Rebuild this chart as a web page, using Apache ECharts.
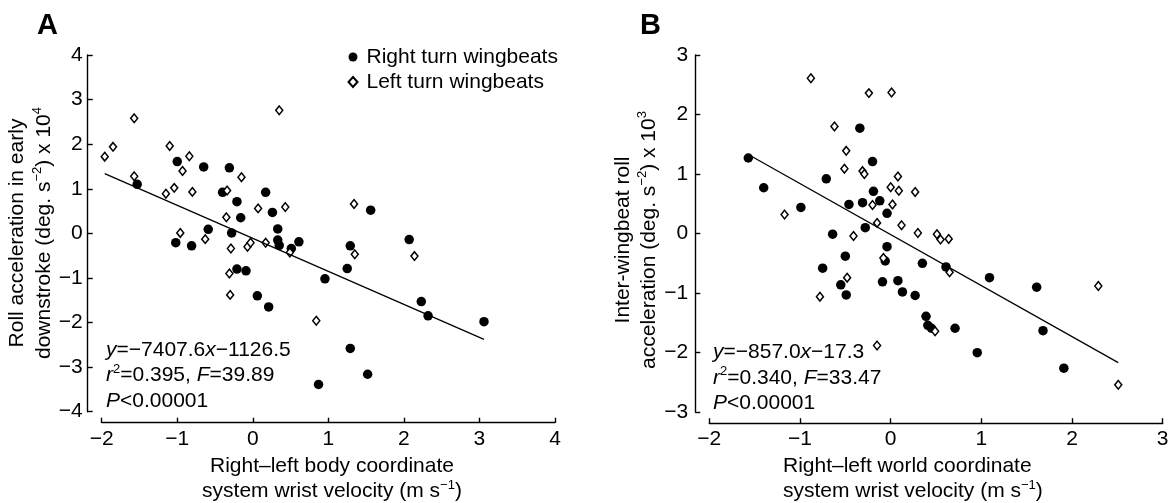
<!DOCTYPE html>
<html>
<head>
<meta charset="utf-8">
<script src="https://cdn.jsdelivr.net/npm/echarts@6/dist/echarts.min.js"></script>
<style>
  html, body { margin: 0; padding: 0; background: #fff; }
  #chart { width: 1174px; height: 503px; }
</style>
</head>
<body>
<div id="chart"></div>
<script>
// ---- Panel A: body coordinate system (x in m s^-1, y in deg s^-2 x 10^4)
const bodyRight = [
  [-1.00, 1.61], [-0.65, 1.49], [-0.31, 1.47], [-1.53, 1.10], [-0.40, 0.92],
  [0.17, 0.92], [-0.21, 0.71], [0.26, 0.47], [-0.16, 0.35], [-0.59, 0.09],
  [0.33, 0.10], [-0.28, 0.01], [-1.02, -0.21], [-0.81, -0.28], [0.33, -0.15],
  [0.35, -0.27], [0.51, -0.34], [0.61, -0.19], [-0.21, -0.80], [-0.09, -0.84],
  [0.06, -1.40], [0.21, -1.65], [1.56, 0.52], [1.29, -0.28], [2.07, -0.14],
  [1.25, -0.79], [0.955, -1.02], [2.23, -1.53], [2.32, -1.85], [3.06, -1.98],
  [1.29, -2.58], [1.52, -3.16], [0.87, -3.39]
];
const bodyLeft = [
  [-1.57, 2.58], [0.35, 2.76], [-1.85, 1.94], [-1.96, 1.72], [-1.10, 1.96],
  [-0.84, 1.73], [-0.93, 1.40], [-1.57, 1.28], [-0.15, 1.26], [-1.04, 1.02],
  [-1.15, 0.89], [-0.80, 0.93], [-0.34, 0.96], [0.07, 0.56], [0.43, 0.59],
  [-0.35, 0.36], [-0.96, 0.01], [-0.63, -0.13], [-0.29, -0.34], [-0.07, -0.30],
  [-0.03, -0.21], [0.17, -0.21], [-0.31, -0.90], [-0.30, -1.38], [1.34, 0.66],
  [0.49, -0.43], [1.35, -0.47], [2.14, -0.51], [0.84, -1.96]
];
// slope, intercept as printed (deg s^-2 per m s^-1), plotted in units of 10^4
const fitA = [-7407.6, -1126.5];
const statA = [0.395, 39.89];
const scaleA = 1e4;

// ---- Panel B: world coordinate system (x in m s^-1, y in deg s^-2 x 10^3)
const worldRight = [
  [-1.57, 1.27], [-1.40, 0.77], [-0.99, 0.44], [-0.34, 1.77], [-0.20, 1.21],
  [-0.71, 0.92], [-0.19, 0.71], [-0.46, 0.49], [-0.31, 0.52], [-0.12, 0.55],
  [-0.04, 0.34], [-0.28, 0.10], [-0.64, -0.01], [-0.04, -0.22], [-0.50, -0.38],
  [-0.06, -0.46], [-0.75, -0.58], [-0.09, -0.81], [-0.55, -0.86], [-0.49, -1.03],
  [0.35, -0.50], [0.61, -0.56], [1.09, -0.74], [1.61, -0.90], [0.08, -0.79],
  [0.13, -0.98], [0.27, -1.04], [0.39, -1.39], [0.41, -1.54], [0.45, -1.59],
  [0.71, -1.59], [1.68, -1.63], [0.955, -2.00], [1.91, -2.26]
];
const worldLeft = [
  [-0.88, 2.61], [-0.24, 2.36], [0.01, 2.37], [-0.62, 1.80], [-0.49, 1.39],
  [-0.51, 1.09], [-0.31, 1.05], [-0.29, 1.00], [-1.17, 0.32], [-0.20, 0.48],
  [-0.41, -0.04], [-0.15, 0.18], [0.08, 0.96], [0.00, 0.78], [0.09, 0.72],
  [0.27, 0.70], [0.02, 0.49], [0.12, 0.14], [0.30, 0.01], [0.51, -0.01],
  [0.55, -0.10], [0.64, -0.09], [0.65, -0.65], [0.49, -1.64], [2.29, -0.88],
  [2.51, -2.54], [-0.08, -0.41], [-0.48, -0.74], [-0.78, -1.06], [-0.15, -1.88]
];
const fitB = [-857.0, -17.3];
const statB = [0.340, 33.47];
const scaleB = 1e3;

// axis ranges [min, max]
const xRangeA = [-2, 4];
const yRangeA = [-4, 4];
const xRangeB = [-2, 3];
const yRangeB = [-3, 3];

const seriesNames = ['Right turn wingbeats', 'Left turn wingbeats'];
const pText = 'P<0.00001';

const FONT = '"Liberation Sans", Arial, Helvetica, sans-serif';
const INK = '#000';
const MINUS = '\u2212';

function signed(n, digits) {
  return (n < 0 ? MINUS : '+') + Math.abs(n).toFixed(digits);
}
function minusFmt(v) {
  return String(v).replace('-', MINUS);
}

// regression line over the x-extent of a panel's wingbeats
function fitLine(fit, scale, sets) {
  const xs = [].concat(...sets).map(p => p[0]);
  const x0 = Math.min(...xs), x1 = Math.max(...xs);
  const f = x => (fit[0] * x + fit[1]) / scale;
  return [[x0, f(x0)], [x1, f(x1)]];
}

const rich = {
  i: { fontStyle: 'italic', fontSize: 21, fontFamily: FONT, fill: INK },
  n: { fontSize: 21, fontFamily: FONT, fill: INK },
  sup: { fontSize: 13, fontFamily: FONT, fill: INK, verticalAlign: 'top', lineHeight: 13 }
};

function statsText(fit, stat) {
  return '{i|y}{n|=' + signed(fit[0], 1) + '}{i|x}{n|' + signed(fit[1], 1) + '}\n' +
         '{i|r}{sup|2}{n|=' + stat[0].toFixed(3) + ', }{i|F}{n|=' + stat[1].toFixed(2) + '}\n' +
         '{i|P}{n|' + pText.slice(1) + '}';
}

function makeAxisX(gridIndex, range) {
  return {
    type: 'value', gridIndex, min: range[0], max: range[1], interval: 1,
    offset: 11,
    axisLine: { onZero: false, lineStyle: { color: INK, width: 1.4 } },
    axisTick: { inside: true, length: 5, lineStyle: { color: INK, width: 1.4 } },
    axisLabel: { color: INK, fontSize: 21, fontFamily: FONT, margin: 6, formatter: minusFmt },
    splitLine: { show: false }
  };
}
function makeAxisY(gridIndex, range, margin) {
  return {
    type: 'value', gridIndex, min: range[0], max: range[1], interval: 1,
    offset: 14,
    axisLine: { onZero: false, lineStyle: { color: INK, width: 1.4 } },
    axisTick: { inside: true, length: 5, lineStyle: { color: INK, width: 1.4 } },
    axisLabel: { color: INK, fontSize: 21, fontFamily: FONT, margin, formatter: minusFmt },
    splitLine: { show: false }
  };
}

const circleStyle = { color: INK, opacity: 1 };
const diamondStyle = { color: '#fff', borderColor: INK, borderWidth: 1.5, opacity: 1 };

function scatterPair(idx, right, left) {
  return [
    { name: seriesNames[0], type: 'scatter', xAxisIndex: idx, yAxisIndex: idx,
      symbol: 'circle', symbolSize: 9.5, itemStyle: circleStyle, data: right, z: 2 },
    { name: seriesNames[1], type: 'scatter', xAxisIndex: idx, yAxisIndex: idx,
      symbol: 'diamond', symbolSize: [7, 8.6], itemStyle: diamondStyle, data: left, z: 3 }
  ];
}
function fitSeries(idx, data) {
  return { type: 'line', xAxisIndex: idx, yAxisIndex: idx, data, symbol: 'none',
    silent: true, lineStyle: { color: INK, width: 1.3 }, z: 4 };
}

function statsLabel(x, y, text) {
  return {
    type: 'text', x, y,
    style: { text, rich, fill: INK, fontSize: 21, fontFamily: FONT, align: 'left', verticalAlign: 'top', lineHeight: 25.5 }
  };
}

const chart = echarts.init(document.getElementById('chart'), null, { renderer: 'canvas' });

chart.setOption({
  animation: false,
  backgroundColor: '#fff',
  grid: [
    { left: 101.7, right: 619, top: 55, bottom: 91.3 },
    { left: 709.3, right: 11.3, top: 55, bottom: 90.8 }
  ],
  xAxis: [makeAxisX(0, xRangeA), makeAxisX(1, xRangeB)],
  yAxis: [makeAxisY(0, yRangeA, 5), makeAxisY(1, yRangeB, 7)],
  legend: {
    data: seriesNames, orient: 'vertical', left: 347.5, top: 44.5,
    itemWidth: 9, itemHeight: 10, itemGap: 0, padding: 0,
    textStyle: { color: INK, fontSize: 21, fontFamily: FONT, lineHeight: 25, padding: [0, 0, 0, 4] }
  },
  series: [
    ...scatterPair(0, bodyRight, bodyLeft),
    fitSeries(0, fitLine(fitA, scaleA, [bodyRight, bodyLeft])),
    ...scatterPair(1, worldRight, worldLeft),
    fitSeries(1, fitLine(fitB, scaleB, [worldRight, worldLeft]))
  ],
  graphic: [
    // panel letters
    { type: 'text', x: 37, y: 25.5, style: { text: 'A', fill: INK, font: 'bold 29px ' + FONT, align: 'left', verticalAlign: 'middle' } },
    { type: 'text', x: 640, y: 25.5, style: { text: 'B', fill: INK, font: 'bold 29px ' + FONT, align: 'left', verticalAlign: 'middle' } },
    // regression statistics
    statsLabel(106, 337, statsText(fitA, statA)),
    statsLabel(713, 339.7, statsText(fitB, statB)),
    // x-axis titles
    { type: 'text', x: 332, y: 454.3, style: {
        text: '{n|Right\u2013left body coordinate}\n{n|system wrist velocity (m s}{sup|' + MINUS + '1}{n|)}',
        rich, fill: INK, fontSize: 21, fontFamily: FONT, align: 'center', verticalAlign: 'top', lineHeight: 24.5 } },
    { type: 'text', x: 783, y: 454.3, style: {
        text: '{n|Right\u2013left world coordinate}\n{n|system wrist velocity (m s}{sup|' + MINUS + '1}{n|)}',
        rich, fill: INK, fontSize: 21, fontFamily: FONT, align: 'left', verticalAlign: 'top', lineHeight: 24.5 } },
    // y-axis titles (rotated)
    { type: 'text', x: 31, y: 233, rotation: Math.PI / 2, style: {
        text: '{n|Roll acceleration in early}\n{n|downstroke (deg. s}{sup|' + MINUS + '2}{n|) x 10}{sup|4}',
        rich, fill: INK, fontSize: 21, fontFamily: FONT, align: 'center', verticalAlign: 'middle', lineHeight: 26.6 } },
    { type: 'text', x: 636, y: 240, rotation: Math.PI / 2, style: {
        text: '{n|Inter-wingbeat roll}\n{n|acceleration (deg. s}{sup|' + MINUS + '2}{n|) x 10}{sup|3}',
        rich, fill: INK, fontSize: 21, fontFamily: FONT, align: 'center', verticalAlign: 'middle', lineHeight: 26.5 } }
  ]
});
</script>
</body>
</html>
